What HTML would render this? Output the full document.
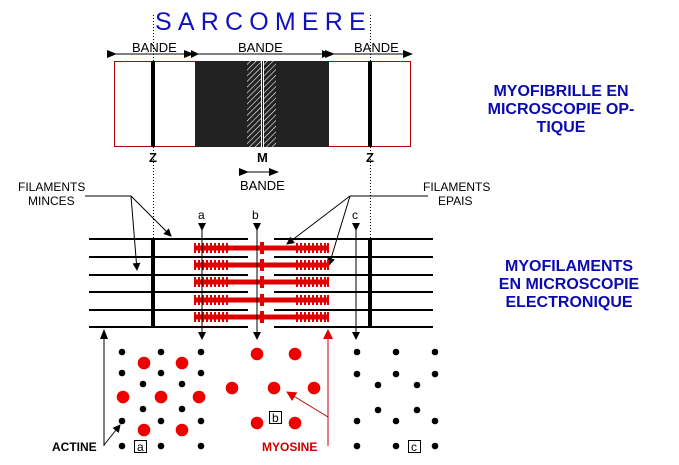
<!DOCTYPE html>
<html><head><meta charset="utf-8"><style>
html,body{margin:0;padding:0;background:#fff}
svg{display:block}
text{font-family:"Liberation Sans",sans-serif}
</style></head><body>
<svg width="679" height="465" viewBox="0 0 679 465" xmlns="http://www.w3.org/2000/svg">
<defs>
<marker id="ah" markerWidth="8" markerHeight="8" refX="7" refY="4" orient="auto" markerUnits="userSpaceOnUse"><path d="M0,0 L8,4 L0,8 z" fill="#000"/></marker>
<marker id="ahr" markerWidth="10" markerHeight="10" refX="9" refY="5" orient="auto" markerUnits="userSpaceOnUse"><path d="M0,0 L10,5 L0,10 z" fill="#e00000"/></marker>
<marker id="ahb" markerWidth="10" markerHeight="8" refX="9" refY="4" orient="auto" markerUnits="userSpaceOnUse"><path d="M0,0 L10,4 L0,8 z" fill="#000"/></marker>
<pattern id="hatch" width="4" height="4" patternUnits="userSpaceOnUse" patternTransform="rotate(45)"><rect width="4" height="4" fill="#222"/><line x1="0" y1="0" x2="0" y2="4" stroke="#fff" stroke-width="1.2"/></pattern>
</defs>
<text x="155" y="30" font-size="25" fill="#1010c0" letter-spacing="6.2">SARCOMERE</text>
<rect x="114.5" y="61.5" width="296" height="85" fill="#fff" stroke="#b00000" stroke-width="1"/>
<rect x="195" y="61" width="134" height="86" fill="#222"/>
<rect x="247" y="61" width="29" height="86" fill="url(#hatch)"/>
<rect x="261" y="61" width="3" height="86" fill="#fff"/>
<rect x="262" y="61" width="1" height="86" fill="#222"/>
<rect x="151" y="61" width="4" height="86" fill="#000"/>
<rect x="368" y="61" width="4" height="86" fill="#000"/>
<line x1="153.5" y1="15" x2="153.5" y2="240" stroke="#000" stroke-dasharray="1,2"/>
<line x1="370.5" y1="15" x2="370.5" y2="240" stroke="#000" stroke-dasharray="1,2"/>
<g font-size="13">
<text x="132" y="52">BANDE</text>
<text x="238" y="52">BANDE</text>
<text x="354" y="52">BANDE</text>
<text x="240" y="190">BANDE</text>
</g>
<g stroke="#000" stroke-width="1">
<line x1="116" y1="54" x2="193" y2="54" marker-end="url(#ahb)" marker-start="url(#ahb)"/>
<line x1="198" y1="54" x2="329" y2="54" marker-end="url(#ah)" marker-start="url(#ah)"/>
<line x1="334" y1="54" x2="412" y2="54" marker-end="url(#ahb)" marker-start="url(#ahb)"/>
<line x1="248" y1="172" x2="278" y2="172" marker-end="url(#ahb)" marker-start="url(#ahb)"/>
</g>
<g font-size="13" font-weight="bold">
<text x="149" y="162">Z</text><text x="257" y="162">M</text><text x="366" y="162">Z</text>
</g>
<g font-size="16" font-weight="bold" fill="#0a0ab0" text-anchor="middle">
<text x="561" y="96">MYOFIBRILLE EN</text>
<text x="561" y="114">MICROSCOPIE OP-</text>
<text x="561" y="132">TIQUE</text>
<text x="569" y="271">MYOFILAMENTS</text>
<text x="569" y="289">EN MICROSCOPIE</text>
<text x="569" y="307">ELECTRONIQUE</text>
</g>
<g font-size="12">
<text x="18" y="191">FILAMENTS</text><text x="28" y="205">MINCES</text>
<text x="423" y="191">FILAMENTS</text><text x="438" y="205">EPAIS</text>
</g>
<g stroke="#000" stroke-width="1" fill="none">
<polyline points="85,196 131,196"/>
<line x1="131" y1="196" x2="137" y2="270" marker-end="url(#ah)"/>
<line x1="131" y1="196" x2="171" y2="236" marker-end="url(#ah)"/>
<polyline points="428,196 350,196"/>
<line x1="350" y1="196" x2="287" y2="244" marker-end="url(#ah)"/>
<line x1="350" y1="196" x2="329" y2="265" marker-end="url(#ah)"/>
</g>
<g stroke="#000" stroke-width="2">
<line x1="89" y1="239" x2="248" y2="239"/><line x1="274" y1="239" x2="433" y2="239"/>
<line x1="89" y1="257" x2="248" y2="257"/><line x1="274" y1="257" x2="433" y2="257"/>
<line x1="89" y1="275" x2="248" y2="275"/><line x1="274" y1="275" x2="433" y2="275"/>
<line x1="89" y1="292" x2="248" y2="292"/><line x1="274" y1="292" x2="433" y2="292"/>
<line x1="89" y1="310" x2="248" y2="310"/><line x1="274" y1="310" x2="433" y2="310"/>
<line x1="89" y1="327" x2="248" y2="327"/><line x1="274" y1="327" x2="433" y2="327"/>
</g>
<rect x="151" y="239" width="4" height="88" fill="#000"/>
<rect x="368" y="239" width="4" height="88" fill="#000"/>
<g id="myo" fill="#e00000">
<rect x="194" y="245.5" width="135" height="5"/>
<rect x="260" y="242" width="4" height="12"/>
<g stroke="#e00000" stroke-width="2">
<path d="M195,243v10M199,243v10M203,243v10M207,243v10M211,243v10M215,243v10M219,243v10M223,243v10M227,243v10M297,243v10M301,243v10M305,243v10M309,243v10M313,243v10M317,243v10M321,243v10M325,243v10M328,243v10"/>
</g>
</g>
<use href="#myo" y="17"/><use href="#myo" y="34"/><use href="#myo" y="52"/><use href="#myo" y="69"/>
<g font-size="12"><text x="198" y="219">a</text><text x="252" y="219">b</text><text x="352" y="219">c</text></g>
<g stroke="#000" stroke-width="1">
<line x1="202" y1="230" x2="202" y2="339" marker-end="url(#ah)" marker-start="url(#ah)"/>
<line x1="257" y1="230" x2="257" y2="339" marker-end="url(#ah)" marker-start="url(#ah)"/>
<line x1="356" y1="230" x2="356" y2="339" marker-end="url(#ah)" marker-start="url(#ah)"/>
<line x1="104" y1="446" x2="104" y2="330" marker-end="url(#ahb)"/>
<line x1="104" y1="445" x2="120" y2="425" marker-end="url(#ah)"/>
</g>
<g stroke="#c00000" stroke-width="1">
<line x1="328" y1="446" x2="328" y2="330" marker-end="url(#ahr)"/>
<line x1="328" y1="417" x2="287" y2="392" marker-end="url(#ahr)"/>
</g>
<g fill="#000">
<circle cx="122" cy="352" r="3.3"/><circle cx="161" cy="352" r="3.3"/><circle cx="201" cy="352" r="3.3"/>
<circle cx="122" cy="373" r="3.3"/><circle cx="161" cy="373" r="3.3"/><circle cx="201" cy="373" r="3.3"/>
<circle cx="143" cy="384" r="3.3"/><circle cx="182" cy="384" r="3.3"/>
<circle cx="143" cy="409" r="3.3"/><circle cx="182" cy="409" r="3.3"/>
<circle cx="122" cy="421" r="3.3"/><circle cx="161" cy="421" r="3.3"/><circle cx="201" cy="421" r="3.3"/>
<circle cx="122" cy="446" r="3.3"/><circle cx="161" cy="446" r="3.3"/><circle cx="201" cy="446" r="3.3"/>
<circle cx="357" cy="352" r="3.3"/><circle cx="396" cy="352" r="3.3"/><circle cx="435" cy="352" r="3.3"/>
<circle cx="357" cy="374" r="3.3"/><circle cx="396" cy="374" r="3.3"/><circle cx="435" cy="374" r="3.3"/>
<circle cx="378" cy="385" r="3.3"/><circle cx="417" cy="385" r="3.3"/>
<circle cx="378" cy="410" r="3.3"/><circle cx="417" cy="410" r="3.3"/>
<circle cx="357" cy="421" r="3.3"/><circle cx="396" cy="421" r="3.3"/><circle cx="435" cy="421" r="3.3"/>
<circle cx="357" cy="446" r="3.3"/><circle cx="396" cy="446" r="3.3"/><circle cx="435" cy="446" r="3.3"/>
</g>
<g fill="#ee0000">
<circle cx="144" cy="363" r="6.3"/><circle cx="182" cy="363" r="6.3"/>
<circle cx="123" cy="397" r="6.3"/><circle cx="161" cy="397" r="6.3"/><circle cx="199" cy="397" r="6.3"/>
<circle cx="144" cy="430" r="6.3"/><circle cx="182" cy="430" r="6.3"/>
<circle cx="257" cy="354" r="6.3"/><circle cx="295" cy="354" r="6.3"/>
<circle cx="232" cy="388" r="6.3"/><circle cx="274" cy="388" r="6.3"/><circle cx="314" cy="388" r="6.3"/>
<circle cx="257" cy="423" r="6.3"/><circle cx="295" cy="423" r="6.3"/>
</g>
<g fill="#fff" stroke="#000" stroke-width="1">
<rect x="134.5" y="440.5" width="12" height="12"/>
<rect x="269.5" y="411.5" width="12" height="12"/>
<rect x="408.5" y="440.5" width="12" height="12"/>
</g>
<g font-size="12"><text x="137" y="451">a</text><text x="272" y="422">b</text><text x="411" y="451">c</text></g>
<text x="52" y="451" font-size="12" font-weight="bold">ACTINE</text>
<text x="262" y="451" font-size="12" font-weight="bold" fill="#cc0000">MYOSINE</text>
</svg>
</body></html>
